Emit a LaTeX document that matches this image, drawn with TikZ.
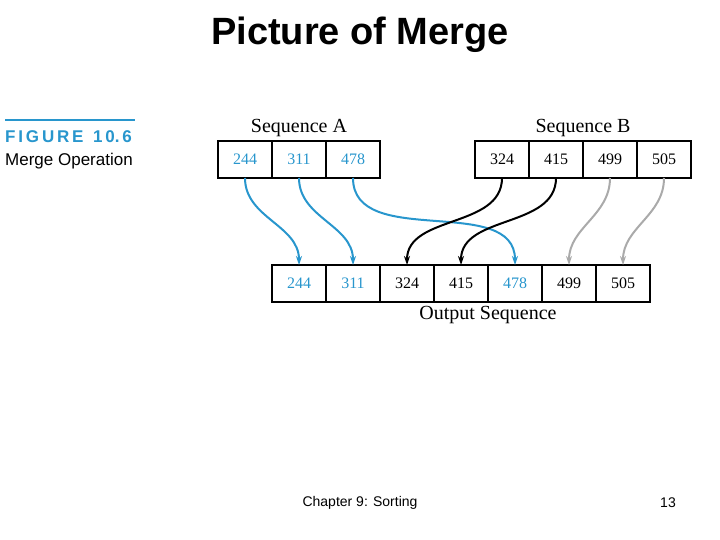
\documentclass[tikz,border=0pt]{standalone}
\usepackage{fontspec}
\setmainfont{Liberation Serif}
\newfontfamily\arialf{Liberation Sans}
\usetikzlibrary{positioning,arrows.meta}
\definecolor{seqblue}{RGB}{40,150,205}
\definecolor{seqgray}{RGB}{170,170,170}
\tikzset{
  cell/.style={draw,line width=1.3pt,minimum width=54pt,minimum height=37pt,inner sep=0pt,outer sep=0pt,font=\fontsize{16}{16}\selectfont},
  mv/.style={line width=2pt,-{Stealth[length=9pt,width=6pt]}},
  lbl/.style={font=\fontsize{20}{20}\selectfont}
}
\begin{document}
\begin{tikzpicture}[x=1pt,y=-1pt]
\useasboundingbox (0,0) rectangle (720,540);
% title and footer
\node[font=\arialf\bfseries\fontsize{38}{38}\selectfont] (title) at (360,35) {Picture of Merge};
\node[font=\arialf\fontsize{14}{14}\selectfont] (chap) at (360,503) {Chapter 9: Sorting};
\node[font=\arialf\fontsize{14}{14}\selectfont] (page) at (668,503) {13};
% figure tag
\draw[seqblue,line width=1.5pt] (5,120) -- (135,120);
\node[anchor=west,inner sep=0pt,seqblue,font=\arialf\bfseries\fontsize{17}{17}\selectfont] (fig) at (5,137) {F\,I\,G\,U\,R\,E\ \ 1\,0.\,6};
\node[anchor=west,inner sep=0pt,font=\arialf\fontsize{17}{17}\selectfont] (figname) at (5,161) {Merge Operation};
% sequence A
\node[cell,anchor=north west,text=seqblue] (a1) at (218,141) {244};
\node[cell,right=0pt of a1,text=seqblue] (a2) {311};
\node[cell,right=0pt of a2,text=seqblue] (a3) {478};
\node[lbl,above=1pt of a2] (seqA) {Sequence A};
% sequence B
\node[cell,anchor=north west] (b1) at (475,141) {324};
\node[cell,right=0pt of b1] (b2) {415};
\node[cell,right=0pt of b2] (b3) {499};
\node[cell,right=0pt of b3] (b4) {505};
\node[lbl,above=1pt of b2.north east] (seqB) {Sequence B};
% output
\node[cell,anchor=north west,text=seqblue] (o1) at (272,265) {244};
\node[cell,right=0pt of o1,text=seqblue] (o2) {311};
\node[cell,right=0pt of o2] (o3) {324};
\node[cell,right=0pt of o3] (o4) {415};
\node[cell,right=0pt of o4,text=seqblue] (o5) {478};
\node[cell,right=0pt of o5] (o6) {499};
\node[cell,right=0pt of o6] (o7) {505};
\node[lbl,below=1pt of o4.south east] (outS) {Output Sequence};
% moves
\draw[mv,seqblue] (a1.south) to[out=-90,in=90] (o1.north);
\draw[mv,seqblue] (a2.south) to[out=-90,in=90] (o2.north);
\draw[mv,seqblue] (a3.south) to[out=-90,in=90] (o5.north);
\draw[mv] (b1.south) to[out=-90,in=90] (o3.north);
\draw[mv] (b2.south) to[out=-90,in=90] (o4.north);
\draw[mv,seqgray] (b3.south) to[out=-90,in=90] (o6.north);
\draw[mv,seqgray] (b4.south) to[out=-90,in=90] (o7.north);
\end{tikzpicture}
\end{document}
